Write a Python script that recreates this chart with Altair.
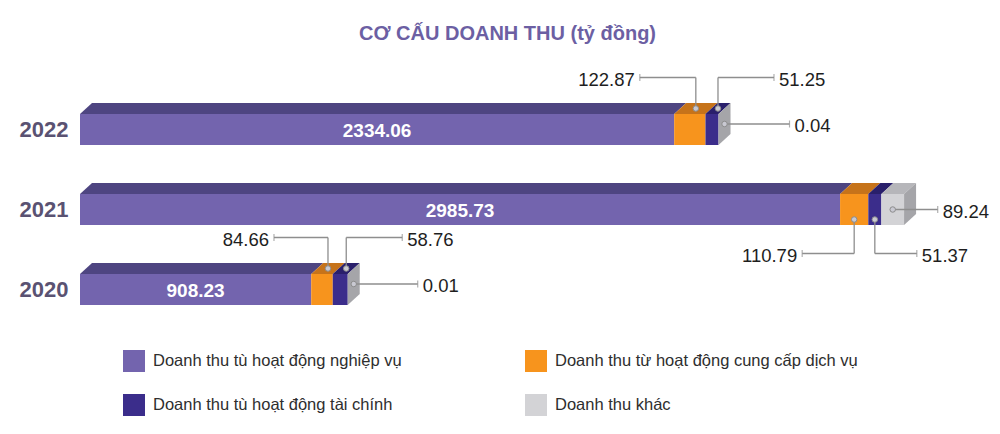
import altair as alt
import pandas as pd

# ---------------- data ----------------
years = ["2022", "2021", "2020"]
categories = [
    "Doanh thu tù hoạt động nghiệp vụ",
    "Doanh thu từ hoạt động cung cấp dịch vụ",
    "Doanh thu tù hoạt động tài chính",
    "Doanh thu khác",
]
nghiep_vu = [2334.06, 2985.73, 908.23]
dich_vu = [122.87, 110.79, 84.66]
tai_chinh = [51.25, 51.37, 58.76]
khac = [0.04, 89.24, 0.01]
series = [nghiep_vu, dich_vu, tai_chinh, khac]

# ---------------- style / layout ----------------
front_colors = ["#7364ae", "#f7941d", "#3b2d8b", "#d3d3d6"]
top_colors = ["#4e4581", "#c6731a", "#291f6b", "#b6b6ba"]
side_color = "#a5a5a9"
FONT = "Liberation Sans, Arial, sans-serif"

W, H = 891, 292
XMAX = 3500
YMIN, YMAX = 0.3, 3.95
PXX = W / XMAX
PXY = H / (YMAX - YMIN)
HALF = 15.5 / PXY
DEPTH_Y = 11 / PXY
DEPTH_X = 12 / PXX

# annotation layout: (year, category index, placement, direction, leader length px)
annot_spec = [
    ("2022", 1, "above", "left", 56),
    ("2022", 2, "above", "right", 56),
    ("2022", 3, "side", "right", 65),
    ("2021", 1, "below", "left", 52),
    ("2021", 2, "below", "right", 42),
    ("2021", 3, "side", "right", 45),
    ("2020", 1, "above", "left", 54),
    ("2020", 2, "above", "right", 56),
    ("2020", 3, "side", "right", 64),
]


def clamp01(v):
    return max(0.0, min(1.0, v))


# ---------------- derived tables ----------------
segs = []
for i, yr in enumerate(years):
    pos = len(years) - i
    start = 0.0
    for c, (cat, arr) in enumerate(zip(categories, series)):
        v = arr[i]
        segs.append(dict(year=yr, pos=pos, cat=cat, ci=c, start=start, end=start + v,
                         value=v, label=f"{v:.2f}"))
        start += v
seg_df = pd.DataFrame(segs)
seg_df["y0"] = seg_df["pos"] - HALF
seg_df["y1"] = seg_df["pos"] + HALF
seg_df["mid"] = (seg_df["start"] + seg_df["end"]) / 2

# top faces: parallelograms drawn as ranged areas along x
top_rows = []
for k, s in seg_df.iterrows():
    yb = s.pos + HALF
    for xv in sorted({s.start, s.end, s.start + DEPTH_X, s.end + DEPTH_X}):
        lo = yb + clamp01((xv - s.end) / DEPTH_X) * DEPTH_Y
        hi = yb + clamp01((xv - s.start) / DEPTH_X) * DEPTH_Y
        top_rows.append(dict(id=f"t{k}", fill=top_colors[s.ci], xv=xv, lo=lo, hi=hi))
top_df = pd.DataFrame(top_rows)

# side faces at the right end of each bar
side_rows = []
for i, yr in enumerate(years):
    pos = len(years) - i
    total = sum(arr[i] for arr in series)
    side_rows.append(dict(id=f"s{yr}", xv=total, lo=pos - HALF, hi=pos + HALF))
    side_rows.append(dict(id=f"s{yr}", xv=total + DEPTH_X, lo=pos - HALF + DEPTH_Y,
                          hi=pos + HALF + DEPTH_Y))
side_df = pd.DataFrame(side_rows)

ann, rules = [], []
for yr, ci, place, direction, length in annot_spec:
    s = seg_df[(seg_df.year == yr) & (seg_df.ci == ci)].iloc[0]
    if place == "above":
        ax, ay, ly = s.mid + DEPTH_X / 2, s.pos + HALF + DEPTH_Y / 2, s.pos + 0.65
    elif place == "below":
        ax, ay, ly = s.mid, s.pos - 10 / PXY, s.pos - 0.55
    else:
        if (s.end - s.start) * PXX > 12:
            ax, ay = s.mid, s.pos
        else:
            ax, ay = s.end + DEPTH_X / 2, s.pos + DEPTH_Y / 2
        ly = ay
    ex = ax + (length / PXX if direction == "right" else -length / PXX)
    ann.append(dict(ax=ax, ay=ay, ex=ex, ly=ly, label=s.label, direction=direction))
    if abs(ly - ay) > 1e-9:
        rules.append(dict(rx=ax, rx2=ax, ry=ay, ry2=ly))
    rules.append(dict(rx=ax, rx2=ex, ry=ly, ry2=ly))
ann_df = pd.DataFrame(ann)
rule_df = pd.DataFrame(rules)
main_df = seg_df[seg_df.ci == 0]

# legend fills column by column: order entries so rows read as in the reference
legend_order = [categories[0], categories[2], categories[1], categories[3]]
legend_colors = [front_colors[categories.index(c)] for c in legend_order]

# ---------------- encodings ----------------
xs = alt.Scale(domain=[0, XMAX])
ys = alt.Scale(domain=[YMIN, YMAX])
label_expr = " : ".join(
    f"datum.value == {len(years) - i} ? '{yr}'" for i, yr in enumerate(years)
) + " : ''"
yaxis = alt.Axis(values=[len(years) - i for i in range(len(years))], labelExpr=label_expr,
                 domain=False, ticks=False, grid=False, title=None, labelFont=FONT,
                 labelFontSize=22, labelFontWeight="bold", labelColor="#5a5272",
                 labelPadding=12)


def X(f, **kw):
    return alt.X(f, scale=xs, axis=None, **kw)


def Y(f, **kw):
    return alt.Y(f, scale=ys, axis=yaxis, **kw)


front = alt.Chart(seg_df).mark_rect().encode(
    x=X("start:Q"), x2="end:Q", y=Y("y0:Q"), y2="y1:Q",
    color=alt.Color("cat:N", scale=alt.Scale(domain=legend_order, range=legend_colors),
                    legend=alt.Legend(title=None, orient="none", legendX=43, legendY=296.5,
                                      columns=2, symbolType="square", symbolSize=484,
                                      symbolStrokeWidth=0, labelFont=FONT, labelFontSize=16.5,
                                      labelColor="#2e2e2e", labelOffset=8, labelLimit=0,
                                      rowPadding=22, columnPadding=123)),
)

top = alt.Chart(top_df).mark_area(opacity=1).encode(
    x=X("xv:Q"), y=Y("lo:Q", stack=None), y2="hi:Q", detail="id:N",
    fill=alt.Fill("fill:N", scale=None),
)

side = alt.Chart(side_df).mark_area(opacity=1, fill=side_color).encode(
    x=X("xv:Q"), y=Y("lo:Q", stack=None), y2="hi:Q", detail="id:N",
)

leaders = alt.Chart(rule_df).mark_rule(color="#8e8e8e", strokeWidth=1.3).encode(
    x=X("rx:Q"), x2="rx2:Q", y=Y("ry:Q"), y2="ry2:Q",
)

ends = alt.Chart(ann_df).mark_tick(orient="vertical", size=7, thickness=1.2,
                                   color="#8e8e8e").encode(x=X("ex:Q"), y=Y("ly:Q"))

dots = alt.Chart(ann_df).mark_point(filled=True, size=30, fill="#c9c9d2", stroke="#8c8c8c",
                                    strokeWidth=1, opacity=1).encode(x=X("ax:Q"), y=Y("ay:Q"))

lbl_right = alt.Chart(ann_df[ann_df.direction == "right"]).mark_text(
    align="left", baseline="middle", dx=5, dy=2, font=FONT, fontSize=18.5, color="#1e1e1e"
).encode(x=X("ex:Q"), y=Y("ly:Q"), text="label:N")

lbl_left = alt.Chart(ann_df[ann_df.direction == "left"]).mark_text(
    align="right", baseline="middle", dx=-5, dy=2, font=FONT, fontSize=18.5, color="#1e1e1e"
).encode(x=X("ex:Q"), y=Y("ly:Q"), text="label:N")

main_lbl = alt.Chart(main_df).mark_text(
    align="center", baseline="middle", dy=1, font=FONT, fontSize=19, fontWeight="bold",
    color="white"
).encode(x=X("mid:Q"), y=Y("pos:Q"), text="label:N")

chart = alt.layer(front, top, side, leaders, ends, dots, lbl_right, lbl_left, main_lbl).properties(
    width=W, height=H,
    title=alt.TitleParams("CƠ CẤU DOANH THU (tỷ đồng)", font=FONT, fontSize=20,
                          fontWeight="bold", color="#6c5fa3", anchor="middle", frame="group",
                          dx=-18, offset=10),
    autosize=alt.AutoSizeParams(type="none"),
    padding={"left": 72, "top": 45.5, "right": 21, "bottom": 78},
    background="white",
).configure_view(strokeWidth=0, stroke="transparent")

chart.save("out.html", embed_options={"renderer": "svg", "actions": False})
